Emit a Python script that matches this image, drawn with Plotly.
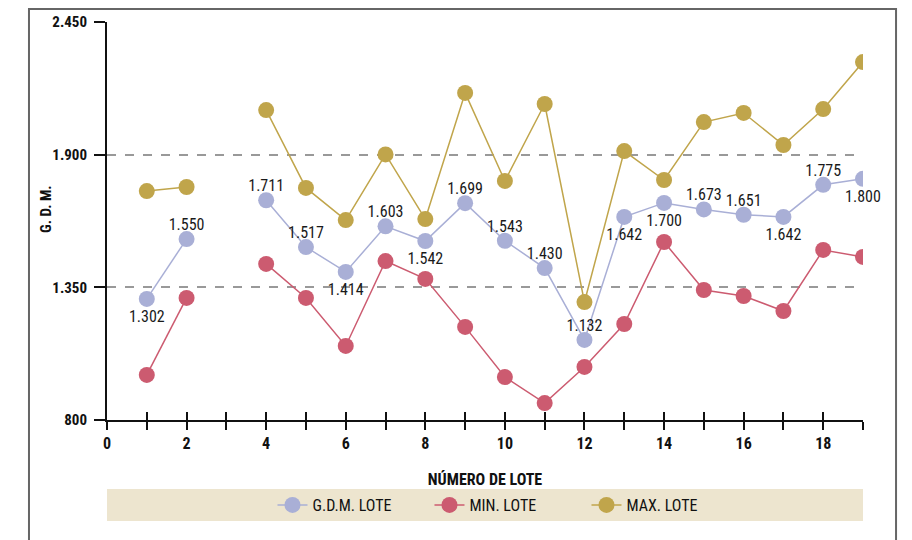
import plotly.graph_objects as go

lotes = list(range(1, 20))
gdm_lote = [1302, 1550, None, 1711, 1517, 1414, 1603, 1542, 1699, 1543, 1430, 1132, 1642, 1700, 1673, 1651, 1642, 1775, 1800]
min_lote = [987, 1306, None, 1447, 1306, 1107, 1459, 1385, 1186, 978, 870, 1020, 1198, 1538, 1339, 1314, 1252, 1505, 1476]
max_lote = [1749, 1766, None, 2085, 1762, 1629, 1901, 1633, 2156, 1791, 2110, 1289, 1915, 1795, 2035, 2073, 1940, 2089, 2284]
gdm_label_pos = ["bottom center", "top center", "top center", "top center", "top center", "bottom center",
                 "top center", "bottom center", "top center", "top center", "top center", "top center",
                 "bottom center", "bottom center", "top center", "top center", "bottom center", "top center",
                 "bottom center"]
y_ticks = [800, 1350, 1900, 2450]
x_ticks_labels = list(range(0, 20, 2))

FONT = "Roboto Condensed, Liberation Sans, sans-serif"
C_GDM = "#A9AFD6"
C_MIN = "#CC5B70"
C_MAX = "#C0A54B"

fig = go.Figure()
fig.add_trace(go.Scatter(
    x=lotes, y=gdm_lote, name="G.D.M. LOTE", mode="lines+markers",
    line=dict(color=C_GDM, width=1.5), marker=dict(color=C_GDM, size=16), connectgaps=False,
))
fig.add_trace(go.Scatter(
    x=lotes, y=min_lote, name="MIN. LOTE", mode="lines+markers",
    line=dict(color=C_MIN, width=1.5), marker=dict(color=C_MIN, size=16), connectgaps=False,
))
fig.add_trace(go.Scatter(
    x=lotes, y=max_lote, name="MAX. LOTE", mode="lines+markers",
    line=dict(color=C_MAX, width=1.5), marker=dict(color=C_MAX, size=16), connectgaps=False,
))
# value labels for G.D.M. (transparent markers only tune the label offset)
fig.add_trace(go.Scatter(
    x=lotes, y=gdm_lote, mode="markers+text", showlegend=False, hoverinfo="skip",
    marker=dict(size=[6.4 if p.startswith("top") else 16 for p in gdm_label_pos], opacity=0),
    texttemplate="%{y:,d}", textposition=gdm_label_pos, cliponaxis=False,
    textfont=dict(family=FONT, size=16, color="#1a1a1a"),
))
# invisible trace to carry the inside half of crossing x ticks
fig.add_trace(go.Scatter(x=[0, 19], y=[None, None], xaxis="x2", showlegend=False, hoverinfo="skip"))

fig.update_layout(
    width=904, height=532,
    margin=dict(l=99, r=49, t=14, b=120),
    paper_bgcolor="white", plot_bgcolor="white",
    separators=",.",
    font=dict(family=FONT, color="#111"),
    showlegend=True,
    hovermode=False,
    legend=dict(orientation="h", x=0.5304, xanchor="center", y=-0.2136, yanchor="middle",
                bgcolor="rgba(0,0,0,0)", font=dict(family=FONT, size=16, color="#111"),
                entrywidth=112, entrywidthmode="pixels", tracegroupgap=0),
    xaxis=dict(range=[0, 19], tickmode="array", tickvals=list(range(0, 20)),
               ticktext=[str(v) if v in x_ticks_labels else "" for v in range(0, 20)],
               ticks="outside", ticklen=8, tickwidth=1.5, tickcolor="#111", automargin=False,
               showline=True, linecolor="#111", linewidth=2, showgrid=False, zeroline=False,
               tickfont=dict(family=FONT, size=16, color="#111", weight="bold"),
               title=dict(text="NÚMERO DE LOTE", standoff=22,
                          font=dict(family=FONT, size=16, color="#111", weight="bold"))),
    xaxis2=dict(range=[0, 19], overlaying="x", anchor="y", side="bottom", automargin=False,
                tickmode="array", tickvals=list(range(0, 20)), showticklabels=False,
                ticks="inside", ticklen=8, tickwidth=1.5, tickcolor="#111",
                showline=False, showgrid=False, zeroline=False),
    yaxis=dict(range=[800, 2450], tickmode="array", tickvals=y_ticks, tickformat=",d",
               ticks="outside", ticklen=11, tickwidth=1.5, tickcolor="#111", automargin=False,
               ticklabelstandoff=4,
               showline=True, linecolor="#111", linewidth=2, zeroline=False,
               showgrid=True, gridcolor="#999999", griddash="dash", gridwidth=1.5,
               tickfont=dict(family=FONT, size=15, color="#111", weight="bold")),
    annotations=[
        dict(text="G. D. M.", xref="paper", yref="paper", x=-0.0807, y=0.530, textangle=-90,
             showarrow=False, xanchor="center", yanchor="middle",
             font=dict(family=FONT, size=15, color="#111", weight="bold")),
    ],
    shapes=[
        dict(type="rect", xref="paper", yref="paper", x0=0, x1=1, y0=-0.2538, y1=-0.1734,
             fillcolor="#EDE5CF", line=dict(width=0), layer="below"),
        dict(type="rect", xref="paper", yref="paper", x0=-0.1032, x1=1.0437, y0=-0.35, y1=1.0327,
             fillcolor="rgba(0,0,0,0)", line=dict(color="#666", width=2), layer="above"),
    ],
)

fig.write_html("out.html")
